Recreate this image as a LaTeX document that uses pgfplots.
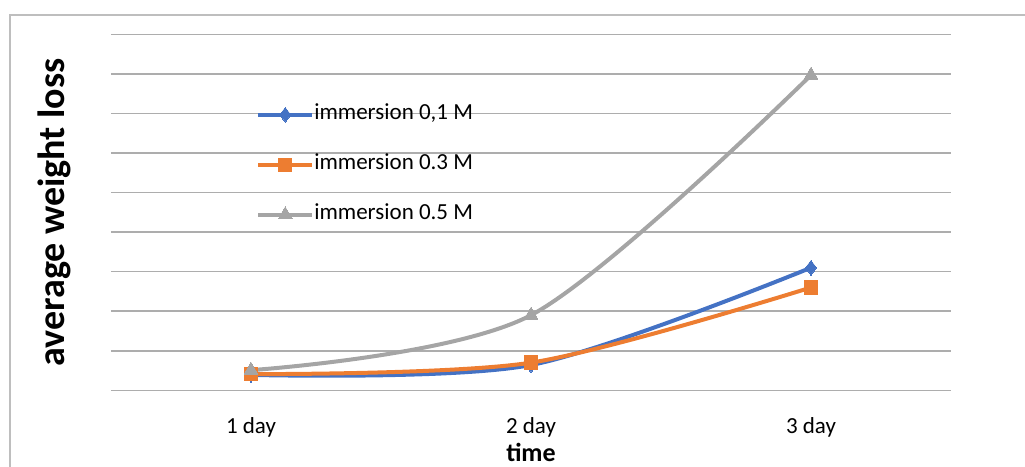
\documentclass[border=0pt]{standalone}
\usepackage{fontspec}
\setmainfont{Carlito}
\usepackage{pgfplots}
\pgfplotsset{compat=1.18}
\definecolor{sblue}{HTML}{4472C4}
\definecolor{sorange}{HTML}{ED7D31}
\definecolor{sgray}{HTML}{A5A5A5}
\definecolor{gridgray}{HTML}{ADADAD}
\definecolor{framegray}{HTML}{BEBEBE}
\begin{document}
\begin{tikzpicture}
\begin{axis}[
  name=ax,
  at={(0,0)}, anchor=south west,
  scale only axis,
  width=630pt, height=267pt,
  xmin=0.5, xmax=3.5, ymin=0, ymax=9,
  xtick={1,2,3}, xticklabels={1 day,2 day,3 day},
  ytick={0,1,...,9}, yticklabels={},
  major tick length=0pt,
  ymajorgrids,
  grid style={color=gridgray, line width=1.1pt},
  axis line style={draw=none},
  tick label style={font=\fontsize{17.25pt}{20pt}\selectfont},
  xticklabel style={anchor=base, yshift=-32.25pt},
  xlabel={\textbf{time}},
  every axis x label/.style={at={(axis description cs:0.5,0)}, anchor=base, yshift=-53.25pt, font=\fontsize{19.5pt}{22pt}\selectfont},
  ylabel={\textbf{average weight loss}},
  every axis y label/.style={at={([xshift=-34.5pt]axis description cs:0,0.5)}, rotate=90, anchor=base, font=\fontsize{28.5pt}{32pt}\selectfont},
  legend cell align=left,
  legend style={draw=none, fill=none, inner sep=0pt,
    at={(axis description cs:0,1)}, anchor=north west, xshift=108.75pt, yshift=-51.5pt,
    font=\fontsize{17.25pt}{20pt}\selectfont,
    nodes={inner sep=0pt, text height=12pt, text depth=5.25pt},
    row sep=20.25pt, column sep=0pt},
  legend image code/.code={\draw[mark repeat=2,mark phase=2,#1] plot coordinates {(0pt,0pt)(20.25pt,0pt)(40.5pt,0pt)};},
  every axis plot/.append style={line width=3pt, smooth},
]
\addplot[color=sblue, mark=diamond*, mark size=5.5pt, mark options={solid, fill=sblue, line width=0pt}] coordinates {(1,0.39) (2,0.64) (3,3.10)};
\addlegendentry{immersion 0,1 M}
\addplot[color=sorange, mark=square*, mark size=5pt, mark options={solid, fill=sorange, line width=0pt}] coordinates {(1,0.41) (2,0.70) (3,2.60)};
\addlegendentry{immersion 0.3 M}
\addplot[color=sgray, mark=triangle*, mark size=6pt, mark options={solid, fill=sgray, line width=0pt}] coordinates {(1,0.51) (2,1.90) (3,7.97)};
\addlegendentry{immersion 0.5 M}
\end{axis}
\draw[framegray, line width=1pt] ([shift={(-75.75pt,-120pt)}]ax.south west) rectangle ++(900pt,401.5pt);
\pgfresetboundingbox
\path[use as bounding box] ([shift={(-83.25pt,-57.5pt)}]ax.south west) rectangle ++(768.75pt,350.25pt);
\end{tikzpicture}
\end{document}
